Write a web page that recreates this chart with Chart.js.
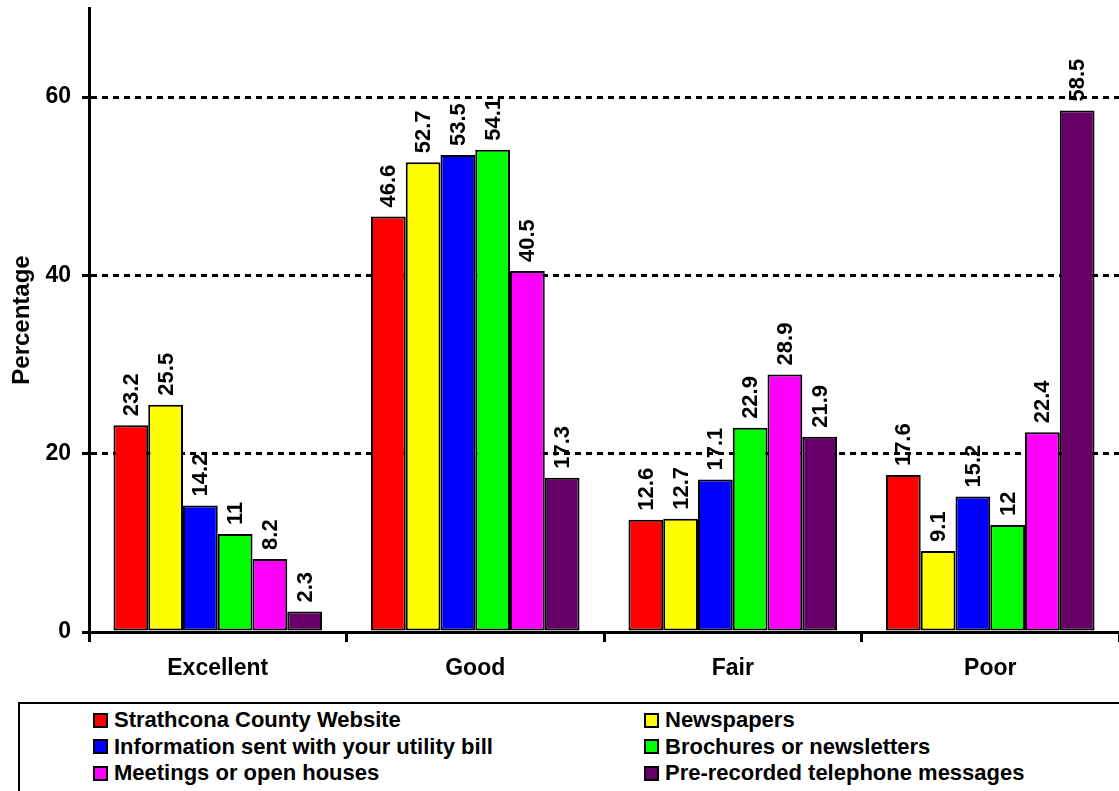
<!DOCTYPE html>
<html>
<head>
<meta charset="utf-8">
<script src="https://cdn.jsdelivr.net/npm/chart.js@4"></script>
<style>
  body { margin: 0; background: #fff; }
  #wrap { position: relative; width: 1119px; height: 791px; overflow: hidden; }
  #chart { position: absolute; left: 0; top: 0; }
  #legend {
    position: absolute; left: 18px; top: 702px; width: 1130px; height: 120px;
    border: 2px solid #000; box-sizing: border-box;
  }
  .item {
    position: absolute; display: flex; align-items: center; height: 26px;
    font: bold 22px Arial, "Liberation Sans", sans-serif; color: #000; white-space: nowrap;
  }
  .swatch { width: 15px; height: 15px; border: 2px solid #000; box-sizing: border-box; margin-right: 6px; }
</style>
</head>
<body>
<div id="wrap">
  <canvas id="chart" width="1119" height="700"></canvas>
  <div id="legend"></div>
</div>
<script>
const categories = ['Excellent', 'Good', 'Fair', 'Poor'];
const seriesNames = [
  'Strathcona County Website',
  'Newspapers',
  'Information sent with your utility bill',
  'Brochures or newsletters',
  'Meetings or open houses',
  'Pre-recorded telephone messages',
];
const seriesColors = ['#ff0000', '#ffff00', '#0000ff', '#00ff00', '#ff00ff', '#660066'];

const website = [23.2, 46.6, 12.6, 17.6];
const newspapers = [25.5, 52.7, 12.7, 9.1];
const utilityBill = [14.2, 53.5, 17.1, 15.2];
const brochures = [11, 54.1, 22.9, 12];
const meetings = [8.2, 40.5, 28.9, 22.4];
const telephone = [2.3, 17.3, 21.9, 58.5];
const seriesValues = [website, newspapers, utilityBill, brochures, meetings, telephone];

const yTicks = [0, 20, 40, 60];

const FONT = 'Arial, "Liberation Sans", sans-serif';
Chart.defaults.font.family = FONT;
Chart.defaults.color = '#000';

// rotated value labels above each bar
const barLabels = {
  id: 'barLabels',
  afterDatasetsDraw(chart) {
    const ctx = chart.ctx;
    ctx.save();
    ctx.font = 'bold 22px ' + FONT;
    ctx.fillStyle = '#000';
    ctx.textAlign = 'left';
    ctx.textBaseline = 'middle';
    chart.data.datasets.forEach((ds, i) => {
      chart.getDatasetMeta(i).data.forEach((bar, j) => {
        ctx.save();
        ctx.translate(bar.x + 1, bar.y - 9);
        ctx.rotate(-Math.PI / 2);
        ctx.fillText(String(ds.data[j]), 0, 0);
        ctx.restore();
      });
    });
    ctx.restore();
  },
};

const chart = new Chart(document.getElementById('chart'), {
  type: 'bar',
  data: {
    labels: categories,
    datasets: seriesNames.map((name, i) => ({
      label: name,
      data: seriesValues[i],
      backgroundColor: seriesColors[i],
      borderColor: '#000',
      borderWidth: 2,
      borderSkipped: false,
      categoryPercentage: 0.81,
      barPercentage: 1.0,
    })),
  },
  options: {
    responsive: false,
    animation: false,
    layout: { padding: { top: 8, left: 0, right: 0, bottom: 0 } },
    plugins: { legend: { display: false }, tooltip: { enabled: false } },
    scales: {
      x: {
        afterFit: (s) => { s.height = 68; },
        grid: { drawOnChartArea: false, tickLength: 10, tickWidth: 3, tickColor: '#000', offset: true },
        border: { color: '#000', width: 3 },
        ticks: { font: { size: 23, weight: 'bold' }, padding: 13 },
      },
      y: {
        min: 0,
        max: 70,
        afterFit: (s) => { s.width = 89; s.paddingTop = 0; s.paddingBottom = 0; },
        afterBuildTicks: (s) => { s.ticks = yTicks.map((v) => ({ value: v })); },
        grid: {
          color: (c) => (c.tick && c.tick.value === 0 ? 'rgba(0,0,0,0)' : '#000'),
          lineWidth: 3,
          tickLength: 7,
          tickWidth: 3,
          tickColor: '#000',
        },
        border: { color: '#000', width: 3, dash: [6, 5] },
        ticks: { font: { size: 23, weight: 'bold' }, padding: 11 },
        title: { display: true, text: 'Percentage', font: { size: 24, weight: 'bold' }, padding: { top: 8, bottom: 0 } },
      },
    },
  },
  plugins: [barLabels],
});

// two-column legend box below the plot
const legendEl = document.getElementById('legend');
Chart.defaults.plugins.legend.labels.generateLabels(chart).forEach((item, i) => {
  const row = Math.floor(i / 2);
  const col = i % 2;
  const div = document.createElement('div');
  div.className = 'item';
  div.style.left = (col === 0 ? 73 : 624) + 'px';
  div.style.top = (3 + row * 26.5) + 'px';
  const sw = document.createElement('span');
  sw.className = 'swatch';
  sw.style.background = item.fillStyle;
  div.appendChild(sw);
  div.appendChild(document.createTextNode(item.text));
  legendEl.appendChild(div);
});
</script>
</body>
</html>
